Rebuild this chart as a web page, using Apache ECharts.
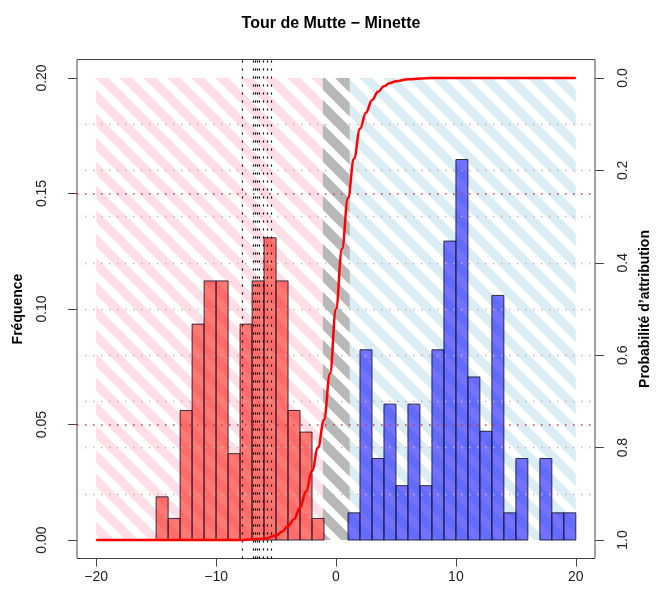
<!DOCTYPE html>
<html><head><meta charset="utf-8">
<script src="https://cdn.jsdelivr.net/npm/echarts@6/dist/echarts.min.js"></script>
<style>html,body{margin:0;padding:0;background:#fff}#c{width:662px;height:596px}</style>
</head><body><div id="c"></div>
<script>
// ---- data ----
const chartTitle = 'Tour de Mutte \u2212 Minette';
const xTicks = [-20, -10, 0, 10, 20];
const freqTicks = [0, 0.05, 0.10, 0.15, 0.20];
const probTicks = [0, 0.2, 0.4, 0.6, 0.8, 1.0];
const probGridGrey = [0.1, 0.2, 0.3, 0.4, 0.5, 0.6, 0.7, 0.8, 0.9];
const probGridRed = [0.25, 0.75];

// red group histogram (bin start, counts; width 1)
const redBinStarts = [-15, -14, -13, -12, -11, -10, -9, -8, -7, -6, -5, -4, -3, -2];
const redCounts    = [2, 1, 6, 10, 12, 12, 4, 10, 12, 14, 12, 6, 5, 1];
const redTotal = 107;
// blue group histogram
const blueBinStarts = [1, 2, 3, 4, 5, 6, 7, 8, 9, 10, 11, 12, 13, 14, 15, 16, 17, 18, 19];
const blueCounts    = [1, 7, 3, 5, 2, 5, 2, 7, 11, 14, 6, 4, 9, 1, 3, 0, 3, 1, 1];
const blueTotal = 85;

// attribution zones (x from, x to)
const zonePink = [-20, -1.1];
const zoneGrey = [-1.1, 1.15];
const zoneBlue = [1.15, 20];

// probability curve [x, probability]
const curveX = [-20, -8, -7, -6, -5, -4.5, -4, -3.5, -3, -2.5, -2, -1.5, -1, -0.5, 0, 0.5, 1, 1.5, 2, 2.5, 3, 3.5, 4, 4.5, 5, 6, 7, 8, 20];
const curveP = [1.0, 1.0, 0.999, 0.997, 0.99, 0.982, 0.97, 0.955, 0.93, 0.895, 0.85, 0.80, 0.74, 0.64, 0.5, 0.37, 0.26, 0.175, 0.11, 0.075, 0.048, 0.03, 0.018, 0.011, 0.007, 0.003, 0.001, 0.0, 0.0];

// unknown specimens (vertical dotted lines)
const specimenX = [-7.78, -6.92, -6.75, -6.58, -6.42, -6.06, -5.72, -5.44];

// ---- helpers ----
function stripes(color, P, w) {
  const c = document.createElement('canvas');
  c.width = P; c.height = P;
  const ctx = c.getContext('2d');
  ctx.strokeStyle = color; ctx.lineWidth = w;
  for (let k = -1; k <= 1; k++) {
    ctx.beginPath();
    ctx.moveTo(k * P - P, -P);
    ctx.lineTo(k * P + 2 * P, 2 * P);
    ctx.stroke();
  }
  return c;
}
const patPink = stripes('rgba(255,192,203,0.5)', 24, 9);
const patGrey = stripes('#b8b8b8', 24, 10);
const patBlue = stripes('rgba(173,216,230,0.45)', 24, 9);

const zones = [
  [zonePink[0], zonePink[1], 0],
  [zoneGrey[0], zoneGrey[1], 1],
  [zoneBlue[0], zoneBlue[1], 2]
];
const pats = [patPink, patGrey, patBlue];

const redData = redBinStarts.map((s, i) => [s, s + 1, redCounts[i] / redTotal]);
const blueData = blueBinStarts.map((s, i) => [s, s + 1, blueCounts[i] / blueTotal]);
const curveData = curveX.map((x, i) => [x, curveP[i]]);

function histRender(fill) {
  return function (params, api) {
    const x0 = api.value(0), x1 = api.value(1), v = api.value(2);
    if (v <= 0) return null;
    const a = api.coord([x0, v]);
    const b = api.coord([x1, 0]);
    return {
      type: 'rect',
      shape: { x: a[0], y: a[1], width: b[0] - a[0], height: b[1] - a[1] },
      style: { fill: fill, stroke: 'rgba(20,20,40,0.85)', lineWidth: 1 }
    };
  };
}

const minus = v => (v < 0 ? '\u2212' + Math.abs(v) : String(v));
const font = 'Liberation Sans, Arial, sans-serif';

const chart = echarts.init(document.getElementById('c'), null, { renderer: 'canvas' });
chart.setOption({
  animation: false,
  backgroundColor: '#fff',
  title: {
    text: chartTitle, left: 'center', top: 11,
    textStyle: { fontFamily: font, fontSize: 16, fontWeight: 'bold', color: '#000' }
  },
  grid: {
    left: 77, right: 67, top: 59.5, bottom: 37.5,
    show: true, borderColor: '#444', borderWidth: 1, backgroundColor: 'transparent'
  },
  xAxis: {
    type: 'value', min: -21.6, max: 21.6,
    axisLine: { show: false, onZero: false },
    splitLine: { show: false },
    axisTick: { show: true, inside: false, length: 8, customValues: xTicks, lineStyle: { color: '#444' } },
    axisLabel: { customValues: xTicks, margin: 12, fontFamily: font, fontSize: 14, color: '#222', formatter: minus }
  },
  yAxis: [
    {
      type: 'value', min: -0.008, max: 0.208, position: 'left',
      name: 'Fr\u00e9quence', nameLocation: 'middle', nameRotate: 90, nameGap: 52,
      nameTextStyle: { fontFamily: font, fontSize: 14, fontWeight: 'bold', color: '#000' },
      axisLine: { show: false, onZero: false },
      splitLine: { show: false },
      axisTick: { show: true, length: 9, customValues: freqTicks, lineStyle: { color: '#444' } },
      axisLabel: { customValues: freqTicks, rotate: 90, margin: 28, fontFamily: font, fontSize: 14, color: '#222',
        formatter: v => v.toFixed(2) }
    },
    {
      type: 'value', min: -0.04, max: 1.04, inverse: true, position: 'right',
      name: 'Probabilit\u00e9 d\u2019attribution', nameLocation: 'middle', nameRotate: 90, nameGap: 42,
      nameTextStyle: { fontFamily: font, fontSize: 14, fontWeight: 'bold', color: '#000' },
      axisLine: { show: false, onZero: false },
      splitLine: { show: false },
      axisTick: { show: true, length: 9, customValues: probTicks, lineStyle: { color: '#444' } },
      axisLabel: { customValues: probTicks, rotate: 90, margin: 21, fontFamily: font, fontSize: 14, color: '#222',
        formatter: v => v.toFixed(1) }
    }
  ],
  series: [
    {
      type: 'custom', name: 'zones', xAxisIndex: 0, yAxisIndex: 0, silent: true, z: 1,
      data: zones,
      renderItem: function (params, api) {
        const a = api.coord([api.value(0), 0.2]);
        const b = api.coord([api.value(1), 0]);
        return {
          type: 'rect',
          shape: { x: a[0], y: a[1], width: b[0] - a[0], height: b[1] - a[1] },
          style: { fill: { image: pats[api.value(2)], repeat: 'repeat' } }
        };
      }
    },
    {
      type: 'line', name: 'grid', yAxisIndex: 1, data: [], silent: true, z: 2,
      markLine: {
        silent: true, symbol: 'none', label: { show: false }, animation: false,
        data: probGridGrey.map(v => ({ yAxis: v, lineStyle: { color: '#c4b4b8', width: 1.3, type: [1.5, 6.5] } }))
          .concat(probGridRed.map(v => ({ yAxis: v, lineStyle: { color: '#d83a3a', width: 1.5, type: [1.5, 6.5] } })))
      }
    },
    {
      type: 'custom', name: 'red', yAxisIndex: 0, z: 3, data: redData,
      renderItem: histRender('rgba(255,30,20,0.6)')
    },
    {
      type: 'custom', name: 'blue', yAxisIndex: 0, z: 3, data: blueData,
      renderItem: histRender('rgba(20,20,255,0.6)')
    },
    {
      type: 'line', name: 'specimens', yAxisIndex: 0, data: [], silent: true, z: 4,
      markLine: {
        silent: true, symbol: 'none', label: { show: false }, animation: false,
        lineStyle: { color: '#000', width: 1.2, type: [2, 6] },
        data: specimenX.map(v => ({ xAxis: v }))
      }
    },
    {
      type: 'line', name: 'curve', yAxisIndex: 1, z: 5, data: curveData,
      showSymbol: false, smooth: 0.4, smoothMonotone: 'x',
      lineStyle: { color: '#ff0000', width: 2.5 }
    }
  ]
});
</script>
</body></html>
